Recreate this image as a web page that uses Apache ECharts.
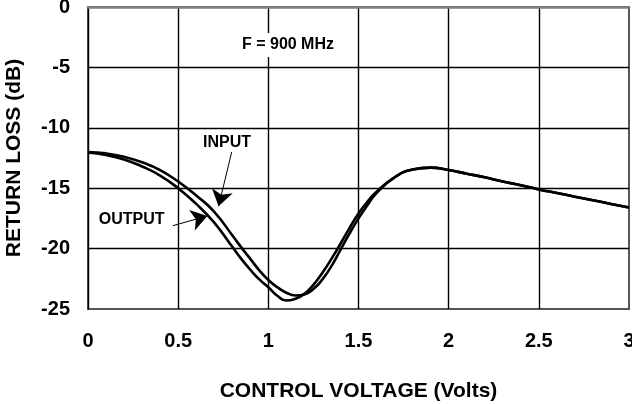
<!DOCTYPE html>
<html>
<head>
<meta charset="utf-8">
<script src="https://cdn.jsdelivr.net/npm/echarts@6/dist/echarts.min.js"></script>
<style>
  html, body { margin: 0; padding: 0; background: #fff; }
  #chart { width: 632px; height: 404px; }
</style>
</head>
<body>
<div id="chart"></div>
<script>
// control voltage (Volts), denser around the dip
var voltage = [0, 0.1, 0.2, 0.3, 0.4, 0.5, 0.6, 0.7, 0.8,
               0.85, 0.9, 0.95, 1.0, 1.05, 1.1, 1.15, 1.2, 1.25, 1.3, 1.35, 1.4, 1.45, 1.5, 1.55,
               1.6, 1.7, 1.8, 1.9, 2.0, 2.1, 2.2, 2.3, 2.4, 2.5, 2.6, 2.7, 2.8, 2.9, 3.0];
// return loss (dB)
var inputLoss = [-12.0, -12.12, -12.4, -12.85, -13.5, -14.45, -15.6, -16.95, -18.9,
                 -19.9, -20.85, -21.8, -22.6, -23.2, -23.65, -23.88, -23.8, -23.35, -22.55, -21.45, -20.1, -18.75, -17.5, -16.4,
                 -15.4, -14.1, -13.45, -13.3, -13.5, -13.8, -14.1, -14.45, -14.75, -15.1, -15.4, -15.7, -16.0, -16.3, -16.6];
var outputLoss = [-12.05, -12.25, -12.62, -13.2, -13.95, -15.0, -16.3, -17.85, -19.85,
                  -20.85, -21.75, -22.55, -23.2, -23.9, -24.3, -24.15, -23.75, -23.0, -22.0, -20.85, -19.6, -18.3, -17.1, -16.1,
                  -15.3, -14.1, -13.45, -13.3, -13.5, -13.8, -14.1, -14.45, -14.75, -15.1, -15.4, -15.7, -16.0, -16.3, -16.6];
var xTicks = [0, 0.5, 1, 1.5, 2, 2.5, 3];
var yTicks = [-25, -20, -15, -10, -5, 0];

var font = "'Liberation Sans', Arial, sans-serif";

function pairs(xs, ys) {
    return xs.map(function (x, i) { return [x, ys[i]]; });
}

var chart = echarts.init(document.getElementById('chart'));

// annotation text placed in data coordinates
function note(text, x, y, extra) {
    var label = {
        show: true, position: 'inside', formatter: text,
        color: '#000', fontFamily: font, fontWeight: 'bold', fontSize: 16
    };
    if (extra) { for (var k in extra) label[k] = extra[k]; }
    return { coord: [x, y], symbol: 'circle', symbolSize: 0, label: label };
}

var option = {
    animation: false,
    backgroundColor: '#fff',
    grid: {
        left: 88, right: 3, top: 7, bottom: 95,
        outerBoundsMode: 'none',
        containLabel: false,
        show: true, borderColor: '#555', borderWidth: 2
    },
    xAxis: {
        type: 'value',
        min: xTicks[0], max: xTicks[xTicks.length - 1], interval: 0.5,
        name: 'CONTROL VOLTAGE (Volts)',
        nameLocation: 'middle', nameGap: 72,
        nameTextStyle: { fontFamily: font, fontWeight: 'bold', fontSize: 21, color: '#000' },
        axisLine: { show: true, lineStyle: { color: '#808080', width: 2.5 } },
        axisTick: { show: false },
        axisLabel: { margin: 22, fontFamily: font, fontWeight: 'bold', fontSize: 20, color: '#000' },
        splitLine: { show: true, showMinLine: false, showMaxLine: false, lineStyle: { color: '#000', width: 1.4 } }
    },
    yAxis: {
        type: 'value',
        min: yTicks[0], max: yTicks[yTicks.length - 1], interval: 5,
        name: 'RETURN LOSS (dB)',
        nameLocation: 'middle', nameGap: 63,
        nameTextStyle: { fontFamily: font, fontWeight: 'bold', fontSize: 21, color: '#000' },
        axisLine: { show: true, lineStyle: { color: '#000', width: 1.4 } },
        axisTick: { show: false },
        axisLabel: { margin: 18, fontFamily: font, fontWeight: 'bold', fontSize: 20, color: '#000' },
        splitLine: { show: true, showMinLine: false, showMaxLine: false, lineStyle: { color: '#000', width: 1.4 } }
    },
    series: [
        {
            name: 'OUTPUT',
            type: 'line',
            data: pairs(voltage, outputLoss),
            smooth: true,
            symbol: 'none',
            lineStyle: { color: '#000', width: 2.6 },
            z: 3
        },
        {
            name: 'INPUT',
            type: 'line',
            data: pairs(voltage, inputLoss),
            smooth: true,
            symbol: 'none',
            lineStyle: { color: '#000', width: 2.6 },
            z: 3,
            markLine: {
                silent: true,
                symbol: ['none', 'arrow'],
                symbolSize: 16,
                label: { show: false },
                lineStyle: { color: '#000', width: 1, type: 'solid' },
                data: [
                    [{ coord: [0.797, -12.0] }, { coord: [0.724, -16.5] }],
                    [{ coord: [0.471, -18.1] }, { coord: [0.662, -17.3] }]
                ]
            },
            markPoint: {
                silent: true,
                data: [
                    note('INPUT', 0.771, -11.2),
                    note('OUTPUT', 0.242, -17.6),
                    note('F = 900 MHz', 1.109, -3.15, { backgroundColor: '#fff', padding: [4, 0] })
                ]
            }
        }
    ]
};

chart.setOption(option);
</script>
</body>
</html>
